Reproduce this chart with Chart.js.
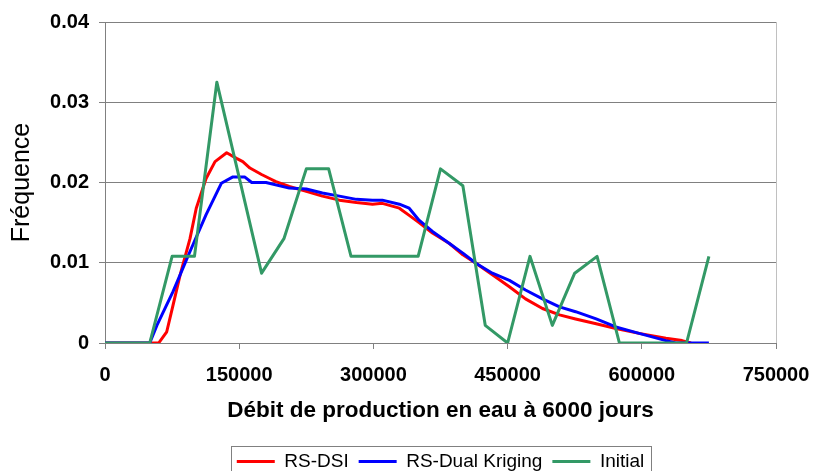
<!DOCTYPE html>
<html>
<head>
<meta charset="utf-8">
<script src="https://cdn.jsdelivr.net/npm/chart.js@4/dist/chart.umd.min.js"></script>
<style>
    html, body { margin: 0; padding: 0; background: #fff; overflow: hidden; }
    .wrap { width: 813px; height: 481px; }
</style>
</head>
<body>
<div class="wrap"><canvas id="freqChart"></canvas></div>
<script>
/* Data */

const seriesNames = ['RS-DSI', 'RS-Dual Kriging', 'Initial'];

const dsiX = [0, 50000, 60000, 69000, 76000, 84000, 95000, 102000, 113000, 123000, 136000, 147000,
    154000, 162000, 175000, 184000, 191000, 206000, 225000, 243000, 262000, 281000, 299000, 310000,
    329000, 340000, 351000, 366000, 385000, 400000, 415000, 433000, 452000, 470000, 489000, 508000,
    526000, 549000, 571000, 597000, 627000, 645000, 655000];
const dsiY = [0, 0, 0, 0.0014, 0.0047, 0.0085, 0.0130, 0.0168, 0.0205, 0.0226, 0.0237, 0.0230,
    0.0226, 0.0218, 0.0210, 0.0205, 0.0201, 0.0195, 0.0189, 0.0183, 0.0178, 0.0175, 0.0173, 0.0174,
    0.0168, 0.0159, 0.0150, 0.0137, 0.0124, 0.0110, 0.0099, 0.0085, 0.0070, 0.0055, 0.0043, 0.0035,
    0.0030, 0.0024, 0.0018, 0.0012, 0.0006, 0.0003, 0];

const dkX = [0, 50000, 58000, 76000, 95000, 113000, 130000, 143000, 156000, 164000, 180000, 206000,
    225000, 243000, 262000, 281000, 299000, 310000, 329000, 340000, 351000, 366000, 385000, 400000,
    415000, 433000, 452000, 470000, 489000, 508000, 526000, 549000, 571000, 597000, 627000, 638000, 675000];
const dkY = [0, 0, 0.0022, 0.0064, 0.0114, 0.0160, 0.0199, 0.0207, 0.0207, 0.0200, 0.0200, 0.0193,
    0.0192, 0.0187, 0.0183, 0.0179, 0.0178, 0.0178, 0.0173, 0.0168, 0.0153, 0.0139, 0.0124, 0.0112,
    0.0099, 0.0087, 0.0078, 0.0066, 0.0055, 0.0045, 0.0039, 0.0030, 0.0020, 0.0012, 0.0003, 0, 0];

const initX = [0, 25000, 50000, 75000, 100000, 125000, 150000, 175000, 200000, 225000, 250000, 275000,
    300000, 325000, 350000, 375000, 400000, 425000, 450000, 475000, 500000, 525000, 550000, 575000,
    600000, 625000, 650000, 675000];
const initY = [0, 0, 0, 0.0108, 0.0108, 0.0325, 0.0206, 0.0087, 0.0130, 0.0217, 0.0217, 0.0108,
    0.0108, 0.0108, 0.0108, 0.0217, 0.0196, 0.0022, 0, 0.0108, 0.0022, 0.0087, 0.0108, 0,
    0, 0, 0, 0.0108];

const xTicks = [0, 150000, 300000, 450000, 600000, 750000];
const yTicks = [0, 0.01, 0.02, 0.03, 0.04];

const pairs = (xs, ys) => xs.map((x, i) => ({ x, y: ys[i] }));

/* Legend centred under the plot area, right edge of the plot, box round the legend */

const framePlugin = {
    id: 'frame',
    afterUpdate(chart) {
        const legend = chart.legend;
        const a = chart.chartArea;
        if (!legend || !a) return;
        const shift = (a.left + a.right) / 2 - (legend.left + legend.right) / 2;
        legend.left += shift;
        legend.right += shift;
        legend.adjustHitBoxes();
    },
    afterDraw(chart) {
        const { ctx, chartArea: a, legend } = chart;
        ctx.save();
        ctx.lineWidth = 1;
        ctx.strokeStyle = '#c0c0c0';
        ctx.beginPath();
        ctx.moveTo(Math.round(a.right) + 0.5, a.top);
        ctx.lineTo(Math.round(a.right) + 0.5, a.bottom);
        ctx.stroke();

        const boxes = legend.legendHitBoxes;
        if (boxes && boxes.length) {
            const left = Math.min(...boxes.map(b => b.left)) - 6;
            const right = Math.max(...boxes.map(b => b.left + b.width)) + 7;
            const top = legend.top + legend.options.labels.padding - 6;
            ctx.strokeStyle = '#808080';
            ctx.strokeRect(Math.round(left) + 0.5, Math.round(top) + 0.5, Math.round(right - left), 40);
        }
        ctx.restore();
    },
};

const ctx = document.getElementById('freqChart');

new Chart(ctx, {
    type: 'line',
    data: {
        datasets: [
            {
                label: seriesNames[0],
                data: pairs(dsiX, dsiY),
                borderColor: '#ff0000',
                backgroundColor: '#ff0000',
                borderWidth: 3,
                order: 3,
            },
            {
                label: seriesNames[1],
                data: pairs(dkX, dkY),
                borderColor: '#0000ff',
                backgroundColor: '#0000ff',
                borderWidth: 3,
                order: 2,
            },
            {
                label: seriesNames[2],
                data: pairs(initX, initY),
                borderColor: '#339966',
                backgroundColor: '#339966',
                borderWidth: 3,
                order: 1,
            },
        ],
    },
    options: {
        responsive: true,
        maintainAspectRatio: false,
        animation: false,
        elements: {
            point: { radius: 0, hoverRadius: 0 },
            line: { tension: 0, fill: false, borderJoinStyle: 'round' },
        },
        layout: { padding: { top: 22, right: 37, left: 0, bottom: 0 } },
        plugins: {
            tooltip: { enabled: false },
            legend: {
                position: 'bottom',
                labels: {
                    color: '#000',
                    font: { family: '"Liberation Sans", Arial, sans-serif', size: 19 },
                    usePointStyle: true,
                    pointStyle: 'line',
                    pointStyleWidth: 38,
                    padding: 10,
                    sort: (a, b) => a.datasetIndex - b.datasetIndex,
                },
            },
        },
        scales: {
            x: {
                type: 'linear',
                min: xTicks[0],
                max: xTicks[xTicks.length - 1],
                afterBuildTicks: scale => { scale.ticks = xTicks.map(v => ({ value: v })); },
                afterFit: scale => {
                    scale.height = 99;
                    scale.paddingLeft = 0;
                    scale.paddingRight = 0;
                },
                grid: { drawOnChartArea: false, drawTicks: true, tickLength: 6, color: '#808080' },
                border: { display: true, color: '#808080' },
                ticks: {
                    color: '#000',
                    padding: 14,
                    maxRotation: 0,
                    font: { family: '"Liberation Sans", Arial, sans-serif', size: 20, weight: 'bold' },
                    callback: v => String(v),
                },
                title: {
                    display: true,
                    text: 'Débit de production en eau à 6000 jours',
                    color: '#000',
                    padding: { top: 0, bottom: 18 },
                    font: { family: '"Liberation Sans", Arial, sans-serif', size: 22.5, weight: 'bold' },
                },
            },
            y: {
                min: yTicks[0],
                max: yTicks[yTicks.length - 1],
                afterBuildTicks: scale => { scale.ticks = yTicks.map(v => ({ value: v })); },
                afterFit: scale => { scale.width = 105; },
                grid: { color: '#808080', tickLength: 6 },
                border: { display: true, color: '#808080' },
                ticks: {
                    color: '#000',
                    padding: 10,
                    font: { family: '"Liberation Sans", Arial, sans-serif', size: 20, weight: 'bold' },
                    callback: v => String(v),
                },
                title: {
                    display: true,
                    text: 'Fréquence',
                    color: '#000',
                    padding: { top: 7, bottom: 0 },
                    font: { family: '"Liberation Sans", Arial, sans-serif', size: 25 },
                },
            },
        },
    },
    plugins: [framePlugin],
});
</script>
</body>
</html>
